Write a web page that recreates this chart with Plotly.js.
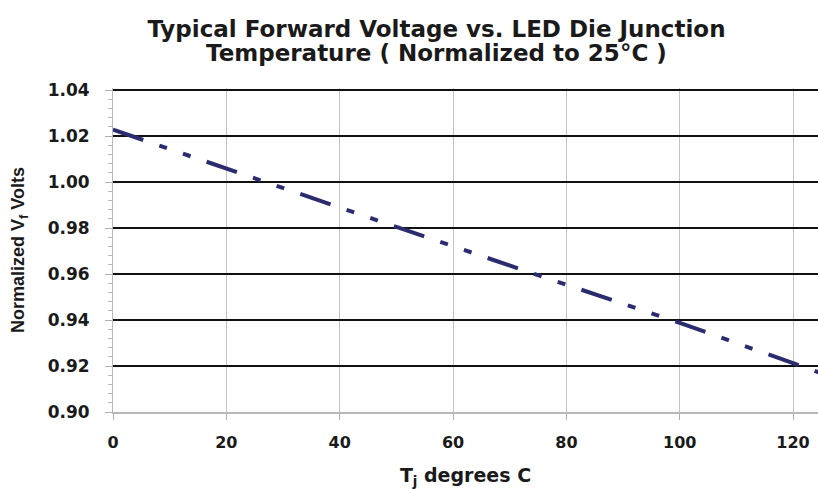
<!DOCTYPE html>
<html>
<head>
<meta charset="utf-8">
<script src="https://cdn.plot.ly/plotly-3.0.1.min.js"></script>
<style>html,body{margin:0;padding:0;background:#fff;}#chart{width:818px;height:489px;}</style>
</head>
<body>
<div id="chart"></div>
<script>
// Data
const tempC = [0, 25, 50, 75, 100, 125];
const normVf = [1.0228, 1.0015, 0.9805, 0.9595, 0.9388, 0.9168];
const xTickVals = [0, 20, 40, 60, 80, 100, 120];
const yTickVals = [0.90, 0.92, 0.94, 0.96, 0.98, 1.00, 1.02, 1.04];
const yTickText = ['0.90', '0.92', '0.94', '0.96', '0.98', '1.00', '1.02', '1.04'];
const titleLines = ['Typical Forward Voltage vs. LED Die Junction', 'Temperature ( Normalized to 25°C )'];

const WIDE = '"DejaVu Sans", Verdana, sans-serif';
const ARIAL = 'Arial, "Liberation Sans", sans-serif';

const trace = {
  x: tempC,
  y: normVf,
  type: 'scatter',
  mode: 'lines',
  line: {color: '#2b2b70', width: 4, dash: '32px,17px,8px,17px,8px,17px'},
  hoverinfo: 'skip'
};

const layout = {
  width: 818,
  height: 489,
  margin: {l: 113, r: 0, t: 88, b: 77},
  paper_bgcolor: '#ffffff',
  plot_bgcolor: '#ffffff',
  showlegend: false,
  font: {family: WIDE, color: '#1a1a1a'},
  title: {
    text: titleLines[0],
    font: {family: WIDE, size: 23, weight: 'bold', color: '#1a1a1a'},
    x: 0.5336, xanchor: 'center', xref: 'container',
    y: 1 - 29 / 489, yanchor: 'middle', yref: 'container'
  },
  annotations: [{
    text: titleLines[1],
    xref: 'paper', yref: 'paper',
    x: (436.5 - 113) / 705, xanchor: 'center',
    y: (412 - 53) / 324, yanchor: 'middle',
    showarrow: false,
    font: {family: WIDE, size: 23, weight: 'bold', color: '#1a1a1a'}
  }],
  xaxis: {
    range: [0, 124.4],
    tickvals: xTickVals,
    ticks: 'outside', ticklen: 6, tickcolor: '#b0b0b0', tickwidth: 1,
    ticklabelstandoff: 9,
    showline: true, linecolor: '#b8b8b8', linewidth: 2,
    showgrid: true, gridcolor: '#c4c4c4', gridwidth: 1,
    zeroline: false,
    tickfont: {family: WIDE, size: 16, weight: 'bold', color: '#1a1a1a'},
    title: {text: 'T<sub>j</sub> degrees C', font: {family: WIDE, size: 19, weight: 'bold', color: '#1a1a1a'}, standoff: 20}
  },
  yaxis: {
    range: [0.90, 1.0409],
    tickvals: yTickVals,
    ticktext: yTickText,
    ticks: 'outside', ticklen: 7, tickcolor: '#b0b0b0', tickwidth: 1,
    ticklabelstandoff: 12,
    showline: true, linecolor: '#b8b8b8', linewidth: 1,
    showgrid: true, gridcolor: '#111111', gridwidth: 2,
    zeroline: false,
    minor: {dtick: 0.004, tick0: 0.90, ticks: 'outside', ticklen: 4, tickcolor: '#b8b8b8', showgrid: false},
    tickfont: {family: WIDE, size: 17, weight: 'bold', color: '#1a1a1a'},
    title: {text: 'Normalized V<sub>f</sub> Volts', font: {family: ARIAL, size: 18, weight: 'bold', color: '#1a1a1a'}, standoff: 18}
  }
};

Plotly.newPlot('chart', [trace], layout, {displayModeBar: false, staticPlot: true});
</script>
</body>
</html>
